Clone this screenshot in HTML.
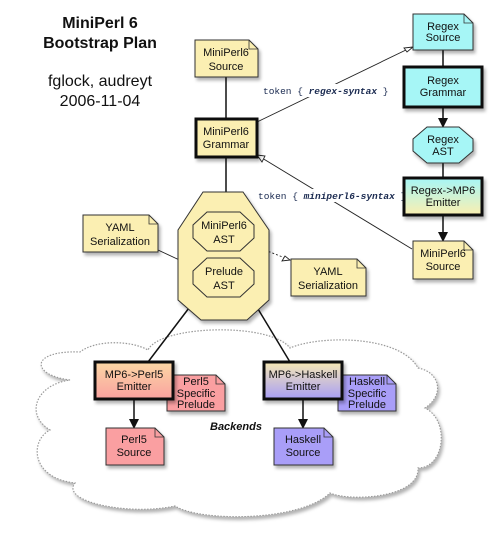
<!DOCTYPE html>
<html><head><meta charset="utf-8"><style>
body{margin:0;background:#fff;width:500px;height:542px;overflow:hidden}
text{font-family:"Liberation Sans",sans-serif;font-size:11px;text-anchor:middle;fill:#111}
.m{font-family:"Liberation Mono",monospace;font-size:9.5px;fill:#1a2a50;text-anchor:start}
</style></head><body>
<svg width="500" height="542" viewBox="0 0 500 542" xmlns="http://www.w3.org/2000/svg">
<defs>
<linearGradient id="gc" x1="0" y1="0" x2="0" y2="1"><stop offset="0" stop-color="#a6f6f6"/><stop offset="1" stop-color="#fbefb0"/></linearGradient>
<linearGradient id="gp" x1="0" y1="0" x2="0" y2="1"><stop offset="0" stop-color="#fcd7a4"/><stop offset="1" stop-color="#f9a2a0"/></linearGradient>
<linearGradient id="gh" x1="0" y1="0" x2="0" y2="1"><stop offset="0" stop-color="#f6e8b4"/><stop offset="1" stop-color="#a89ef6"/></linearGradient>
<filter id="sh" x="-20%" y="-20%" width="150%" height="150%"><feDropShadow dx="2" dy="3" stdDeviation="1.5" flood-color="#000" flood-opacity="0.3"/></filter>
</defs>
<text x="100" y="28" style="font-size:16px;font-weight:bold">MiniPerl 6</text>
<text x="100" y="48" style="font-size:16px;font-weight:bold">Bootstrap Plan</text>
<text x="100" y="86" style="font-size:16px">fglock, audreyt</text>
<text x="100" y="106" style="font-size:16px">2006-11-04</text>

<path filter="url(#sh)" d="M70,380 C30,375 30,350 80,352 C95,340 130,340 148,350 C160,325 270,322 290,348 C320,335 400,335 418,368 C440,372 445,395 425,408 C450,420 445,468 418,468 C420,498 350,502 330,493 C300,522 200,522 175,506 C130,516 60,502 75,483 C30,478 30,440 50,430 C25,415 35,385 70,380 Z" fill="#fff" stroke="#999" stroke-width="1.2" stroke-dasharray="1.5 1.5"/>

<g stroke="#111" stroke-width="1.5" fill="none">
<line x1="226" y1="77" x2="226" y2="119"/>
<line x1="226" y1="157" x2="226" y2="203"/>
<line x1="443" y1="50" x2="443" y2="67"/>
<line x1="443" y1="107" x2="443" y2="119"/>
<line x1="443" y1="163" x2="443" y2="178"/>
<line x1="443" y1="215" x2="443" y2="233"/>
<line x1="192" y1="304" x2="148" y2="362"/>
<line x1="255" y1="304" x2="290" y2="362"/>
<line x1="134" y1="399" x2="134" y2="420"/>
<line x1="303" y1="399" x2="303" y2="420"/>
</g>
<g fill="#111">
<polygon points="221,202 231,202 226,212"/>
<polygon points="438,118 448,118 443,128"/>
<polygon points="438,232 448,232 443,242"/>
<polygon points="129,419 139,419 134,429"/>
<polygon points="298,419 308,419 303,429"/>
</g>
<g stroke="#222" stroke-width="0.9" fill="none">
<line x1="257" y1="122" x2="408" y2="49"/>
<line x1="412" y1="249" x2="262" y2="158"/>
<line x1="158" y1="250" x2="188" y2="264"/>
<line x1="250" y1="244" x2="285" y2="258" stroke-dasharray="2 2"/>
</g>
<g fill="#fff" stroke="#222" stroke-width="0.9">
<polygon points="413,47 404,48 407,52"/>
<polygon points="257,155 262,162 265,156"/>
<polygon points="193,266 185,267 188,262"/>
<polygon points="290,260 282,261 285,256"/>
</g>
<rect x="262" y="84" width="140" height="13" fill="#fff"/>
<text class="m" x="263" y="94">token { <tspan font-weight="bold" font-style="italic">regex-syntax</tspan> }</text>
<rect x="257" y="189" width="150" height="13" fill="#fff"/>
<text class="m" x="258" y="199">token { <tspan font-weight="bold" font-style="italic">miniperl6-syntax</tspan> }</text>

<polygon filter="url(#sh)" points="203,192 243,192 269,230 269,300 247,320 201,320 178,300 178,230" fill="#fbefb2" stroke="#333" stroke-width="1"/>
<polygon points="207,212 240,212 254,225 254,238 240,251 207,251 193,238 193,225" fill="#fbefb2" stroke="#333" stroke-width="1"/>
<text x="224" y="229">MiniPerl6</text><text x="224" y="243">AST</text>
<polygon points="207,258 240,258 254,271 254,284 240,297 207,297 193,284 193,271" fill="#fbefb2" stroke="#333" stroke-width="1"/>
<text x="224" y="275">Prelude</text><text x="224" y="289">AST</text>

<g stroke="#333" stroke-width="1" filter="url(#sh)">
<path d="M195,40 H249 L258,49 V77 H195 Z" fill="#fbefb2"/>
<path d="M83,215 H149 L158,224 V252 H83 Z" fill="#fbefb2"/>
<path d="M291,259 H357 L366,268 V296 H291 Z" fill="#fbefb2"/>
<path d="M413,14 H464 L473,23 V50 H413 Z" fill="#a6f6f6"/>
<path d="M413,241 H464 L473,250 V279 H413 Z" fill="#fbefb2"/>
<path d="M167,375 H216 L225,384 V411 H167 Z" fill="#fa9fa1"/>
<path d="M106,428 H155 L164,437 V465 H106 Z" fill="#fa9fa1"/>
<path d="M338,375 H387 L396,384 V411 H338 Z" fill="#a99ef8"/>
<path d="M274,428 H324 L333,437 V465 H274 Z" fill="#a99ef8"/>
</g>
<g fill="none" stroke="#333" stroke-width="0.8">
<path d="M249,40 V49 H258"/><path d="M149,215 V224 H158"/><path d="M357,259 V268 H366"/>
<path d="M464,14 V23 H473"/><path d="M464,241 V250 H473"/><path d="M216,375 V384 H225"/>
<path d="M155,428 V437 H164"/><path d="M387,375 V384 H396"/><path d="M324,428 V437 H333"/>
</g>
<polygon filter="url(#sh)" points="427,127 459,127 473,139 473,151 459,163 427,163 413,151 413,139" fill="#a6f6f6" stroke="#333"/>

<g stroke="#111" stroke-width="3" filter="url(#sh)">
<rect x="196" y="119" width="61" height="38" fill="#fbefb2"/>
<rect x="404" y="67" width="78" height="40" fill="#a6f6f6"/>
<rect x="404" y="178" width="78" height="37" fill="url(#gc)"/>
<rect x="95" y="362" width="78" height="37" fill="url(#gp)"/>
<rect x="264" y="362" width="78" height="37" fill="url(#gh)"/>
</g>

<text x="226" y="56">MiniPerl6</text><text x="226" y="70">Source</text>
<text x="226" y="135">MiniPerl6</text><text x="226" y="148">Grammar</text>
<text x="120" y="231">YAML</text><text x="120" y="245">Serialization</text>
<text x="328" y="275">YAML</text><text x="328" y="289">Serialization</text>
<text x="443" y="30">Regex</text><text x="443" y="41">Source</text>
<text x="443" y="84">Regex</text><text x="443" y="96">Grammar</text>
<text x="443" y="143">Regex</text><text x="443" y="155">AST</text>
<text x="443" y="194">Regex-&gt;MP6</text><text x="443" y="206">Emitter</text>
<text x="443" y="257">MiniPerl6</text><text x="443" y="270">Source</text>
<text x="134" y="378">MP6-&gt;Perl5</text><text x="134" y="390">Emitter</text>
<text x="196" y="385">Perl5</text><text x="196" y="397">Specific</text><text x="196" y="408">Prelude</text>
<text x="134" y="443">Perl5</text><text x="134" y="456">Source</text>
<text x="303" y="378">MP6-&gt;Haskell</text><text x="303" y="390">Emitter</text>
<text x="367" y="385">Haskell</text><text x="367" y="397">Specific</text><text x="367" y="408">Prelude</text>
<text x="303" y="443">Haskell</text><text x="303" y="456">Source</text>
<text x="236" y="430" style="font-weight:bold;font-style:italic">Backends</text>
</svg>
</body></html>
